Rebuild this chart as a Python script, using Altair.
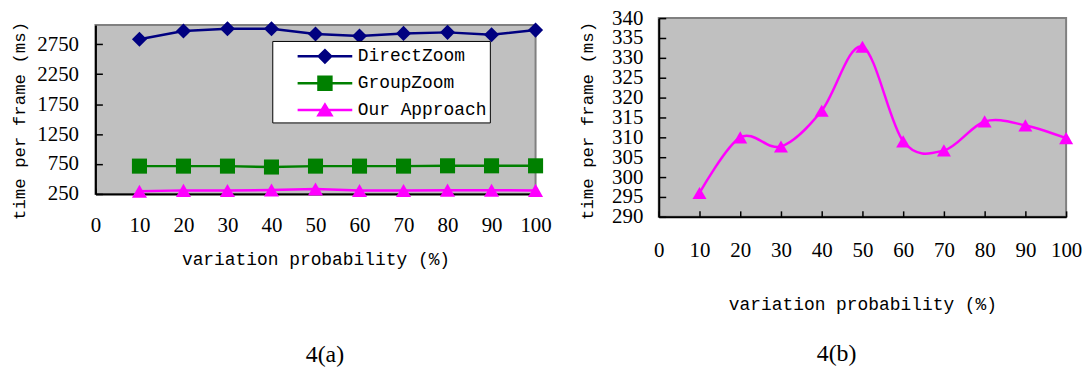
import altair as alt
import pandas as pd

# ---- data ----
x_vals = [10, 20, 30, 40, 50, 60, 70, 80, 90, 100]
direct_zoom = [2832, 2970, 3008, 3008, 2920, 2887, 2931, 2948, 2909, 2986]
group_zoom = [715, 715, 715, 700, 715, 715, 715, 720, 720, 720]
our_approach = [296, 310, 307.7, 316.7, 332.8, 309, 306.7, 314, 313, 309.8]
series_names = ["DirectZoom", "GroupZoom", "Our Approach"]
x_ticks = [0, 10, 20, 30, 40, 50, 60, 70, 80, 90, 100]
left_y_ticks = [250, 750, 1250, 1750, 2250, 2750]
right_y_ticks = [290, 295, 300, 305, 310, 315, 320, 325, 330, 335, 340]
captions = ["4(a)", "4(b)"]
x_title = "variation probability (%)"
y_title = "time per frame (ms)"

# ---- styles ----
series_colors = ["#000080", "#008000", "#FF00FF"]
marker_shapes = ["diamond", "square", "triangle-up"]
_line = "M-2.2,-0.1L2.2,-0.1L2.2,0.1L-2.2,0.1Z"
legend_paths = [
    _line + "M0,-0.64L0.64,0L0,0.64L-0.64,0Z",
    _line + "M-0.62,-0.62L0.62,-0.62L0.62,0.62L-0.62,0.62Z",
    _line + "M0,-0.62L0.7,0.52L-0.7,0.52Z",
]

rows = []
for name, vals in zip(series_names, [direct_zoom, group_zoom, our_approach]):
    for xv, yv in zip(x_vals, vals):
        rows.append({"x": xv, "value": yv, "series": name})
df_left = pd.DataFrame(rows)
df_right = pd.DataFrame({"x": x_vals, "value": our_approach, "series": "Our Approach"})

LABEL_FONT = "Liberation Serif"
TITLE_FONT = "Liberation Mono"

xs = alt.Scale(domain=[0, 100], nice=False, zero=False)
color_scale = alt.Scale(domain=series_names, range=series_colors)
shape_scale = alt.Scale(domain=series_names, range=marker_shapes)


def main_x(label_pad, title_pad):
    return alt.Axis(values=x_ticks, title=x_title, ticks=False, tickSize=0,
                    labelPadding=label_pad, titlePadding=title_pad, grid=False,
                    labelFlush=False, labelOverlap=False, domainColor="black",
                    domainWidth=2, format="d")


def main_y(values, label_pad, title_pad, title_y):
    return alt.Axis(values=values, title=y_title, ticks=False, tickSize=0,
                    labelPadding=label_pad, titlePadding=title_pad, grid=False,
                    labelFlush=False, labelOverlap=False, domainColor="black",
                    domainWidth=2, format="d", titleY=title_y,
                    titleFontSize=17.5)


tick_x = alt.Axis(values=x_ticks, orient="bottom", labels=False, domain=False,
                  ticks=True, tickSize=6, offset=-6, title=None, grid=False,
                  tickColor="black", tickWidth=1.5)


def tick_y(values):
    return alt.Axis(values=values, orient="left", labels=False, domain=False,
                    ticks=True, tickSize=7, offset=-7, title=None, grid=False,
                    tickColor="black", tickWidth=1.5)


# ---- left panel ----
ys_left = alt.Scale(domain=[250, 3070], nice=False, zero=False)
lbase = alt.Chart(df_left)
l_line = lbase.mark_line(strokeWidth=2.5).encode(
    x=alt.X("x:Q", scale=xs, axis=main_x(21, 15)),
    y=alt.Y("value:Q", scale=ys_left, axis=main_y(left_y_ticks, 17, 8, 96)),
    color=alt.Color("series:N", scale=color_scale, legend=None),
)
l_pts = lbase.mark_point(filled=True, size=230, opacity=1).encode(
    x=alt.X("x:Q", scale=xs, axis=tick_x),
    y=alt.Y("value:Q", scale=ys_left, axis=tick_y(left_y_ticks)),
    color=alt.Color("series:N", scale=color_scale, legend=None),
    shape=alt.Shape("series:N", scale=shape_scale, legend=None),
)
leg = alt.Legend(orient="none", legendX=178, legendY=16, title=None,
                 fillColor="white", strokeColor="black", padding=3,
                 rowPadding=5, symbolOffset=37.5, labelOffset=20.5,
                 symbolSize=625, symbolStrokeWidth=0, labelFont=TITLE_FONT,
                 labelFontSize=18, labelColor="black", labelLimit=300,
                 labelExpr="datum.label + '    '")
l_ghost = lbase.mark_point(filled=True, opacity=1).transform_filter("false").encode(
    x=alt.X("x:Q", scale=xs, axis=None),
    y=alt.Y("value:Q", scale=ys_left, axis=None),
    color=alt.Color("series:N", scale=alt.Scale(domain=series_names, range=series_colors), legend=leg),
    shape=alt.Shape("series:N", scale=alt.Scale(domain=series_names, range=legend_paths), legend=leg),
)
left = alt.layer(l_line, l_pts, l_ghost).resolve_scale(
    color="independent", shape="independent"
).resolve_axis(x="independent", y="independent").properties(
    width=443, height=170,
    title=alt.Title(captions[0], orient="bottom", anchor="middle", offset=75.5,
                    dx=9.5, font=LABEL_FONT, fontSize=24, fontWeight="normal",
                    color="black"),
)

# invisible spacer above the left panel (the two panels sit at different heights)
spacer = alt.Chart(pd.DataFrame({"s": [0]})).mark_point(opacity=0, size=0).encode(
    x=alt.value(0), y=alt.value(0)
).properties(width=10, height=0.5, view=alt.ViewBackground(fill="transparent", stroke="transparent"))

# ---- right panel ----
ys_right = alt.Scale(domain=[290, 340], nice=False, zero=False)
rbase = alt.Chart(df_right)
r_line = rbase.mark_line(strokeWidth=2.5, interpolate="cardinal", color="#FF00FF").encode(
    x=alt.X("x:Q", scale=xs, axis=main_x(23, 35)),
    y=alt.Y("value:Q", scale=ys_right, axis=main_y(right_y_ticks, 16, 15, 103)),
)
r_pts = rbase.mark_point(filled=True, size=200, opacity=1, shape="triangle-up",
                         color="#FF00FF").encode(
    x=alt.X("x:Q", scale=xs, axis=tick_x),
    y=alt.Y("value:Q", scale=ys_right, axis=tick_y(right_y_ticks)),
)
right = alt.layer(r_line, r_pts).resolve_axis(
    x="independent", y="independent"
).properties(
    width=410, height=200,
    title=alt.Title(captions[1], orient="bottom", anchor="middle", offset=29.5,
                    dx=-26, font=LABEL_FONT, fontSize=24, fontWeight="normal",
                    color="black"),
)

chart = alt.hconcat(alt.vconcat(spacer, left, spacing=0), right, spacing=25).properties(
    padding={"left": 2, "top": -3, "right": 0, "bottom": 0}
).configure_view(
    fill="#C0C0C0", stroke="#808080", strokeWidth=2
).configure_axis(
    labelFont=LABEL_FONT, labelFontSize=21, labelColor="black",
    titleFont=TITLE_FONT, titleFontSize=18, titleFontWeight="normal",
    titleColor="black",
)

chart.save("out.html", embed_options={"renderer": "svg", "actions": False})
